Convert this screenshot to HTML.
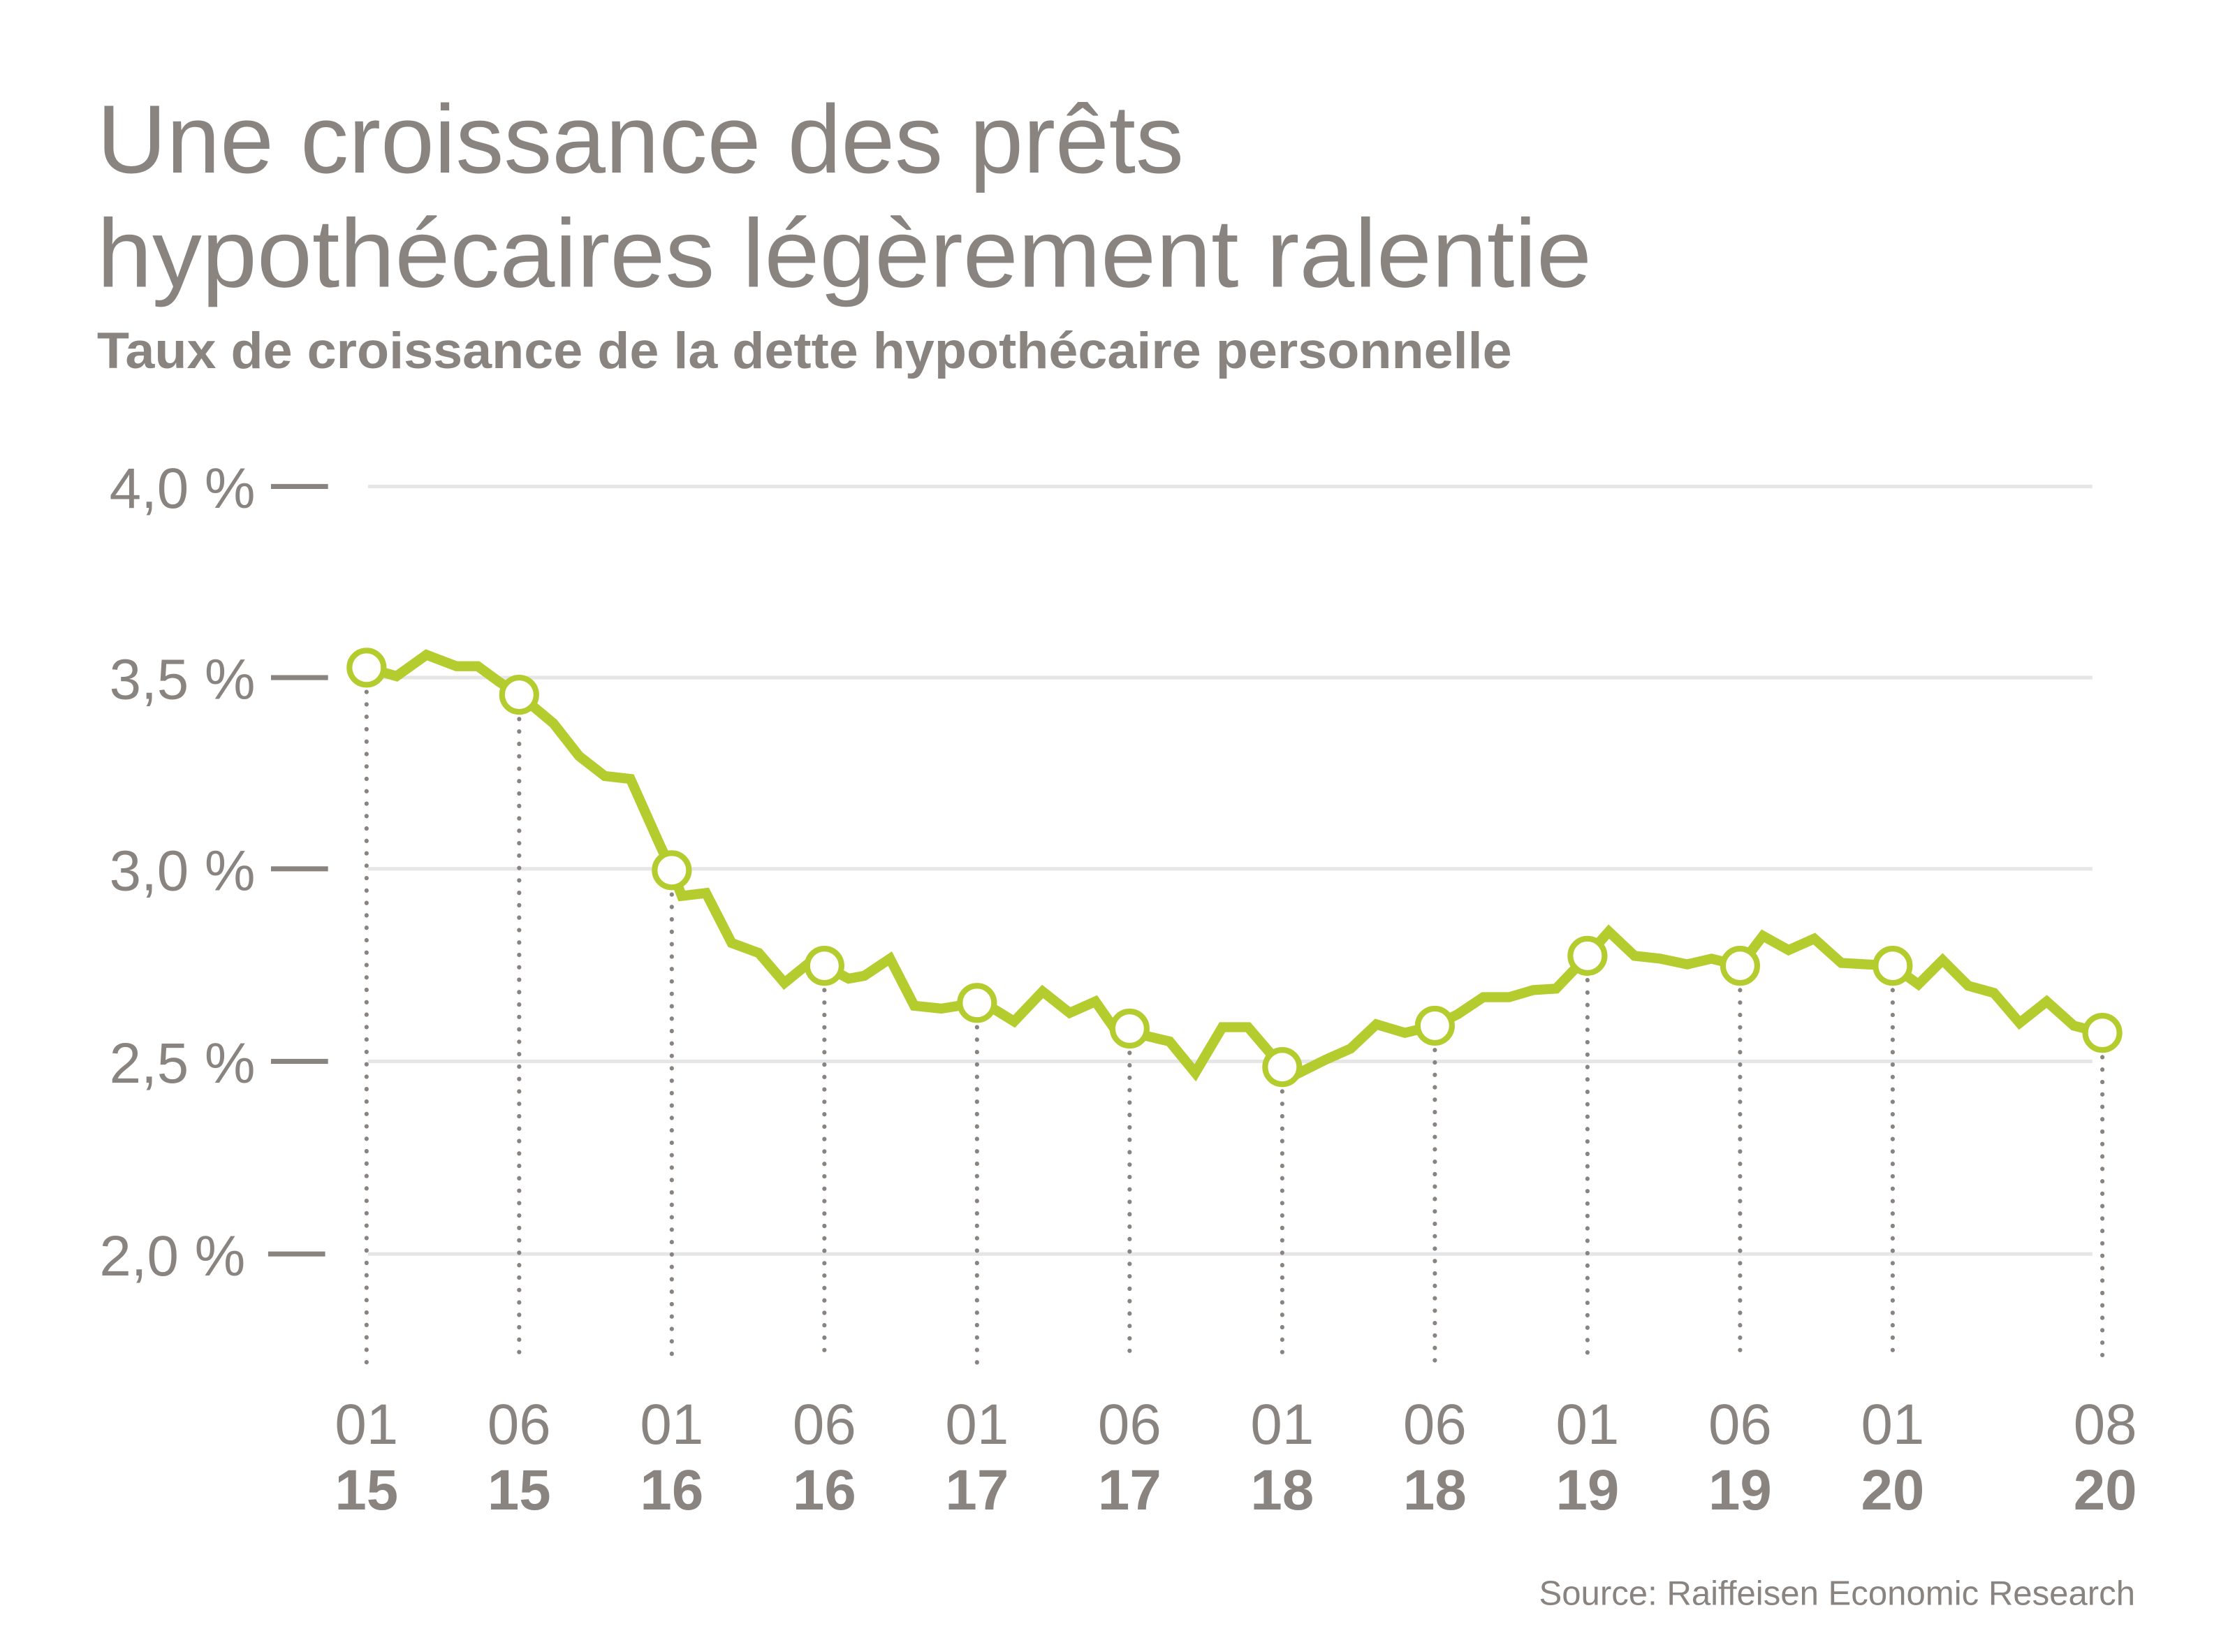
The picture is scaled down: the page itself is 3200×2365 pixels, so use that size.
<!DOCTYPE html>
<html><head><meta charset="utf-8"><style>
html,body{margin:0;padding:0;background:#fff;}
svg{display:block;}
text{font-family:"Liberation Sans",sans-serif;fill:#8a8480;}
</style></head><body>
<svg width="3200" height="2365" viewBox="0 0 1567 1158" preserveAspectRatio="none" xmlns="http://www.w3.org/2000/svg">
<text x="68" y="121" font-size="68" textLength="762" lengthAdjust="spacingAndGlyphs">Une croissance des prêts</text>
<text x="68" y="201" font-size="68" textLength="1048" lengthAdjust="spacingAndGlyphs">hypothécaires légèrement ralentie</text>
<text x="68" y="258" font-size="36" font-weight="bold" textLength="992" lengthAdjust="spacingAndGlyphs">Taux de croissance de la dette hypothécaire personnelle</text>
<g stroke="#e6e6e6" stroke-width="2.5">
<line x1="258" y1="341" x2="1467" y2="341"/><line x1="258" y1="475" x2="1467" y2="475"/>
<line x1="258" y1="609" x2="1467" y2="609"/><line x1="258" y1="744" x2="1467" y2="744"/>
<line x1="258" y1="879" x2="1467" y2="879"/></g>
<g stroke="#8a8480" stroke-width="3.5">
<line x1="190" y1="341" x2="230" y2="341"/><line x1="190" y1="475" x2="230" y2="475"/>
<line x1="190" y1="609" x2="230" y2="609"/><line x1="190" y1="744" x2="230" y2="744"/>
<line x1="188" y1="879" x2="228" y2="879"/></g>
<g font-size="40" text-anchor="end">
<text x="179" y="356">4,0 %</text><text x="179" y="490">3,5 %</text><text x="179" y="624">3,0 %</text>
<text x="179" y="759">2,5 %</text><text x="172" y="894">2,0 %</text></g>
<g stroke="#8a8480" stroke-width="3" stroke-linecap="round" stroke-dasharray="0.1 8.6">
<line x1="257" y1="485" x2="257" y2="955"/><line x1="364" y1="504" x2="364" y2="955"/>
<line x1="471" y1="627" x2="471" y2="955"/><line x1="578" y1="694" x2="578" y2="955"/>
<line x1="685" y1="720" x2="685" y2="955"/><line x1="792" y1="738" x2="792" y2="955"/>
<line x1="899" y1="765" x2="899" y2="955"/><line x1="1006" y1="736" x2="1006" y2="955"/>
<line x1="1113" y1="687" x2="1113" y2="955"/><line x1="1220" y1="694" x2="1220" y2="955"/>
<line x1="1327" y1="694" x2="1327" y2="955"/><line x1="1474" y1="741" x2="1474" y2="955"/></g>
<polyline fill="none" stroke="#b5cc2e" stroke-width="7" stroke-linejoin="miter" points="257,468 278,474 299,459 320,467 335,467 350,478 364,487 388,507 406,530 424,544 442,546 463,593 471,610 478,628 495,626 513,661 532,668 550,689 566,676 578,677 595,686 606,684 624,672 641,705 660,707 685,703 698,708 711,716 731,695 750,710 768,702 782,722 792,721 803,726 820,730 838,752 857,720 875,720 899,748 909,753 929,743 947,735 965,718 985,724 1006,719 1022,711 1040,699 1058,699 1075,694 1091,693 1113,670 1128,653 1146,670 1164,672 1183,676 1200,672 1220,677 1236,656 1254,666 1272,658 1291,675 1309,676 1327,677 1345,690 1362,673 1380,691 1398,696 1416,717 1435,702 1454,719 1474,724"/>
<g fill="#fff" stroke="#b5cc2e" stroke-width="4">
<circle cx="257" cy="468" r="12"/><circle cx="364" cy="487" r="12"/><circle cx="471" cy="610" r="12"/>
<circle cx="578" cy="677" r="12"/><circle cx="685" cy="703" r="12"/><circle cx="792" cy="721" r="12"/>
<circle cx="899" cy="748" r="12"/><circle cx="1006" cy="719" r="12"/><circle cx="1113" cy="670" r="12"/>
<circle cx="1220" cy="677" r="12"/><circle cx="1327" cy="677" r="12"/><circle cx="1474" cy="724" r="12"/></g>
<g font-size="40" text-anchor="middle">
<text x="257" y="1012">01</text><text x="364" y="1012">06</text><text x="471" y="1012">01</text>
<text x="578" y="1012">06</text><text x="685" y="1012">01</text><text x="792" y="1012">06</text>
<text x="899" y="1012">01</text><text x="1006" y="1012">06</text><text x="1113" y="1012">01</text>
<text x="1220" y="1012">06</text><text x="1327" y="1012">01</text><text x="1476" y="1012">08</text></g>
<g font-size="40" font-weight="bold" text-anchor="middle">
<text x="257" y="1058">15</text><text x="364" y="1058">15</text><text x="471" y="1058">16</text>
<text x="578" y="1058">16</text><text x="685" y="1058">17</text><text x="792" y="1058">17</text>
<text x="899" y="1058">18</text><text x="1006" y="1058">18</text><text x="1113" y="1058">19</text>
<text x="1220" y="1058">19</text><text x="1327" y="1058">20</text><text x="1476" y="1058">20</text></g>
<text x="1497" y="1125" font-size="24" text-anchor="end" textLength="418" lengthAdjust="spacingAndGlyphs">Source: Raiffeisen Economic Research</text>
</svg>
</body></html>
